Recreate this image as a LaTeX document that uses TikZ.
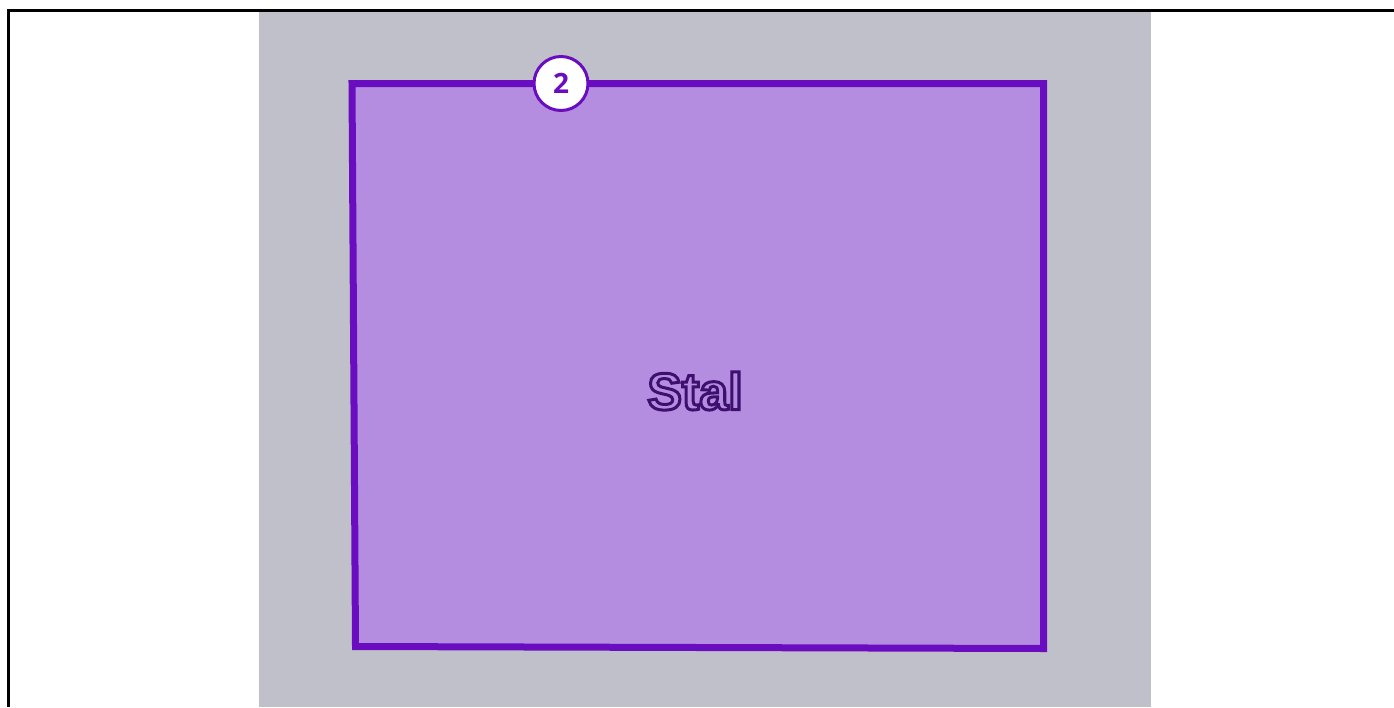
\documentclass[tikz,border=0pt]{standalone}
\usepackage{fontspec}
\setmainfont{Liberation Sans}
\newfontfamily\badgefont{Open Sans}
\definecolor{zonegray}{HTML}{BFC0C9}
\definecolor{steelfill}{HTML}{B58DE0}
\definecolor{steeledge}{HTML}{6A0DC0}
\definecolor{labeldark}{HTML}{3D1070}
\newcommand{\outlinetext}[1]{\special{pdf:literal direct 1 Tr 3 w}#1\special{pdf:literal direct 0 Tr}}
\tikzset{
  badge/.style={circle,draw=steeledge,line width=3pt,fill=white,minimum size=54pt,inner sep=0pt,
    text=steeledge,font=\badgefont\bfseries\fontsize{28}{28}\selectfont},
  zonelabel/.style={inner sep=0pt,text=labeldark,font=\bfseries\fontsize{52}{52}\selectfont}
}
\begin{document}
\begin{tikzpicture}[x=1pt,y=-1pt]
  \useasboundingbox (0,0) rectangle (1394,707);
  % Frame
  \draw[line width=3pt] (8.5,707) -- (8.5,10.5) -- (1394,10.5);
  % Gray zone
  \fill[zonegray] (259,12) rectangle (1151,707);
  % Steel region
  \draw[steeledge,fill=steelfill,line width=7pt,line join=miter]
    (352,83.5) -- (1043.5,83.5) -- (1043.5,648.5) -- (355.5,646.5) -- cycle;
  \node[zonelabel] (stal) at (695,391) {\outlinetext{Stal}};
  % Badge
  \node[badge] (two) at (561,83.5) {2};
\end{tikzpicture}
\end{document}
